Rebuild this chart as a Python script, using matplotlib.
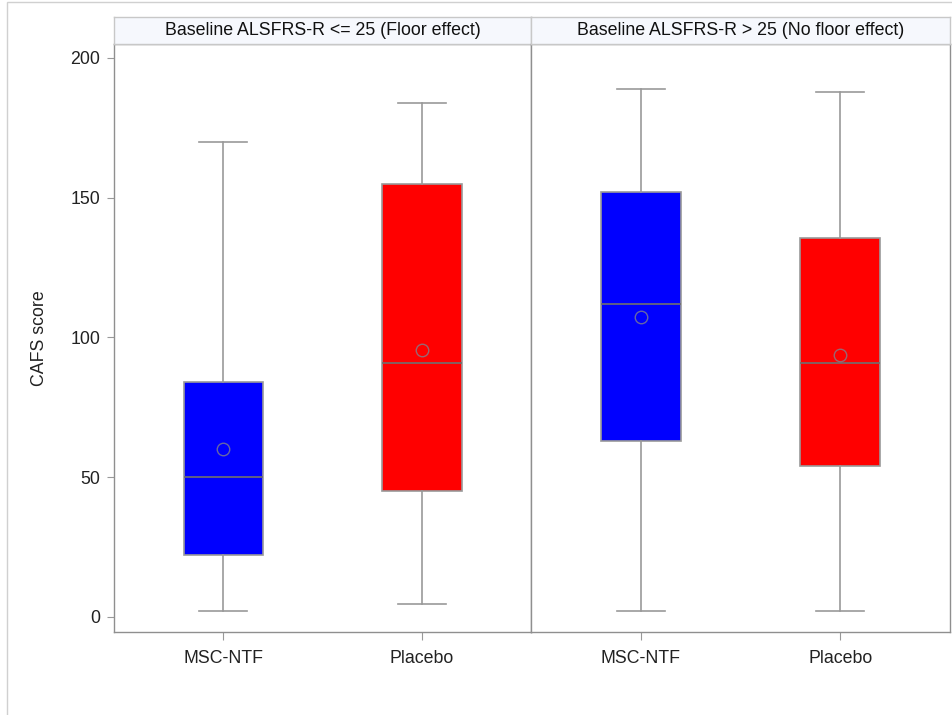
import matplotlib
matplotlib.use("Agg")
import matplotlib.pyplot as plt
from matplotlib.patches import Rectangle

plt.rcParams['font.family'] = ['Liberation Sans', 'DejaVu Sans']

panels = ["Baseline ALSFRS-R <= 25 (Floor effect)", "Baseline ALSFRS-R > 25 (No floor effect)"]
groups = ["MSC-NTF", "Placebo"]
colors = ["#0000ff", "#ff0000"]

# per panel, per group
whislo = [[2, 4.7], [2, 2]]
q1 = [[22, 45], [63, 54]]
med = [[50, 91], [112, 91]]
mean = [[60, 95.5], [107.3, 93.7]]
q3 = [[84, 155], [152, 135.5]]
whishi = [[170, 184], [189, 188]]

yticks = [0, 50, 100, 150, 200]

W, H = 952, 715
fig = plt.figure(figsize=(W / 100, H / 100), dpi=100)

# outer frame
fig.patches.append(Rectangle((7 / W, -0.1), 1.2, 1 - 2 / H + 0.1, transform=fig.transFigure,
                             fill=False, edgecolor="#d0d0d0", linewidth=1))

left, right = 114, 950
mid = 531
top, bottom = 44, 632
hdr_top = 17

fs = 12.8
edge = "#8f8f8f"
for p in range(2):
    x0 = left if p == 0 else mid
    x1 = mid if p == 0 else right
    ax = fig.add_axes([x0 / W, 1 - bottom / H, (x1 - x0) / W, (bottom - top) / H])
    stats = []
    for g in range(2):
        stats.append(dict(med=med[p][g], q1=q1[p][g], q3=q3[p][g], whislo=whislo[p][g],
                          whishi=whishi[p][g], mean=mean[p][g], fliers=[], label=groups[g]))
    bp = ax.bxp(stats, positions=[0, 1], widths=0.40, patch_artist=True, showmeans=True,
                showfliers=False,
                boxprops=dict(edgecolor="#999999", linewidth=1.2),
                medianprops=dict(color="#707070", linewidth=1.2),
                whiskerprops=dict(color="#999999", linewidth=1.2),
                capprops=dict(color="#999999", linewidth=1.2),
                meanprops=dict(marker="o", markersize=9, markerfacecolor="none",
                               markeredgecolor="#80808f", markeredgewidth=1.0, alpha=0.8),
                capwidths=0.24)
    for patch, c in zip(bp["boxes"], colors):
        patch.set_facecolor(c)
    ax.set_xlim(-0.55, 1.55)
    ax.set_ylim(-5.4, 205)
    for s in ax.spines.values():
        s.set_color(edge)
        s.set_linewidth(1.0)
    ax.set_xticks([0, 1])
    ax.set_xticklabels(groups, fontsize=fs, color="#222222")
    ax.tick_params(axis="x", length=6, color="#999999", pad=7)
    if p == 0:
        ax.set_yticks(yticks)
        ax.set_yticklabels([str(t) for t in yticks], fontsize=fs, color="#222222")
        ax.tick_params(axis="y", length=5, color="#999999", pad=5)
        ax.set_ylabel("CAFS score", fontsize=fs, color="#222222", labelpad=16)
    else:
        ax.set_yticks([])
    # header strip
    hax = fig.add_axes([x0 / W, 1 - top / H, (x1 - x0) / W, (top - hdr_top) / H])
    hax.set_facecolor("#f6f8fd")
    hax.set_xticks([])
    hax.set_yticks([])
    for s in hax.spines.values():
        s.set_color("#c8c8c8")
        s.set_linewidth(1.0)
    hax.text(0.5, 0.5, panels[p], ha="center", va="center", fontsize=fs,
             color="#111111", transform=hax.transAxes)

fig.savefig("out.png", dpi=100)
